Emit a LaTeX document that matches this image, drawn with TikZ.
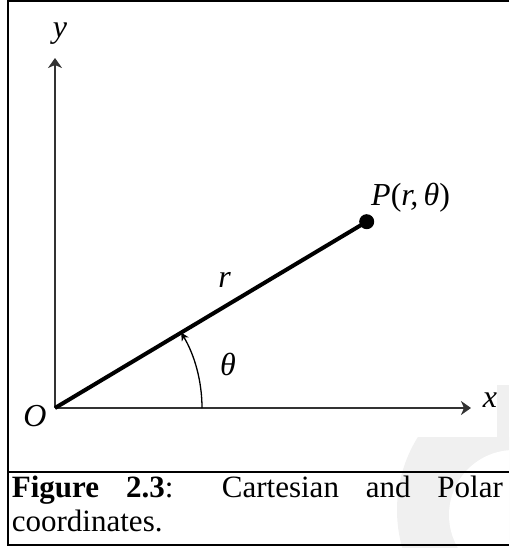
\documentclass[tikz,border=0pt]{standalone}
\usepackage{fontspec}
\setmainfont{Liberation Serif}
\usetikzlibrary{arrows.meta}
\begin{document}
\begin{tikzpicture}[x=1pt,y=-1pt,
  axis/.style={line width=2pt, draw=black!80, -{Stealth[length=10pt,width=14pt,inset=3pt]}},
  lbl/.style={font=\fontsize{32}{36}\selectfont\itshape, inner sep=0pt, anchor=base},
  frame/.style={line width=2pt},
  wm/.style={fill=black!6},
  dot/.style={circle, fill=black, inner sep=0pt, minimum size=15pt},
  radius line/.style={line width=4pt},
  angle arc/.style={line width=1.3pt, -{Stealth[length=8pt,width=8pt,inset=2.5pt]}}]
\useasboundingbox (0,0) rectangle (509,548);
% faint watermark
\begin{scope}
  \clip (0,0) rectangle (509,548);
  \fill[wm] (497,385) rectangle (509,437);
  \begin{scope}
    \clip (0,437) rectangle (509,548);
    \fill[wm] (535,510) circle (138);
  \end{scope}
  \fill[white] (514,515) circle (65);
\end{scope}
% frame
\draw[frame] (509,1.5) -- (7.5,1.5) -- (7.5,544.5) -- (509,544.5);
\draw[frame] (7.5,471.5) -- (509,471.5);
% axes
\coordinate (O) at (55,408);
\coordinate (X) at (471,408);
\coordinate (Y) at (55,58);
\draw[axis] (O) -- (X);
\draw[axis] (O) -- (Y);
% point and radius
\node[dot] (P) at (366.7,221.7) {};
\draw[radius line] (O) -- (P.center);
\draw[angle arc] ([xshift=147pt]O) arc[start angle=0,end angle=-30.87,radius=147];
% labels
\node[lbl] (ylab) at (60,37.7) {y};
\node[lbl] (xlab) at (490,407.3) {x};
\node[lbl] (Olab) at (35,426.7) {O};
\node[lbl] (rlab) at (224.5,287) {r};
\node[lbl] (tlab) at (228,375) {θ};
\node[lbl, anchor=base west] (Plab) at (371,205) {P\textup{(}r,\,θ\textup{)}};
% caption
\node[anchor=north west, inner sep=0pt, text width=491pt, align=justify,
      font=\fontsize{31}{34}\selectfont] (cap) at (11.7,473.2)
  {\noindent\strut\textbf{Figure 2.3}: Cartesian and Polar\linebreak coordinates.};
\end{tikzpicture}
\end{document}
